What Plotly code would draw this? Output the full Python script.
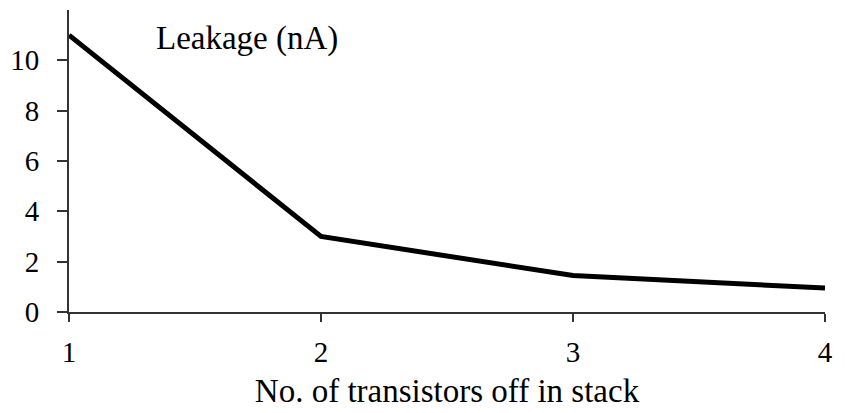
import plotly.graph_objects as go

transistors_off = [1, 2, 3, 4]
leakage_na = [11.0, 3.0, 1.45, 0.95]
y_ticks = [0, 2, 4, 6, 8, 10]
x_ticks = [1, 2, 3, 4]

FONT = "Liberation Serif, Times New Roman, serif"

fig = go.Figure()
fig.add_trace(go.Scatter(
    x=transistors_off, y=leakage_na, mode="lines",
    line=dict(color="black", width=5), showlegend=False,
))

fig.update_layout(
    width=845, height=413,
    margin=dict(l=68, r=20, t=10, b=97),
    paper_bgcolor="white", plot_bgcolor="white",
    font=dict(family=FONT, color="black", size=29),
    xaxis=dict(
        range=[1, 4], tickvals=x_ticks, showgrid=False, zeroline=False,
        showline=True, linecolor="#333", linewidth=2,
        ticks="outside", ticklen=8, tickwidth=2, tickcolor="#333",
        tickfont=dict(size=29, family=FONT), ticklabelstandoff=5,
        title=dict(text="No. of transistors off in stack", font=dict(size=33, family=FONT), standoff=12),
    ),
    yaxis=dict(
        range=[0, 12], tickvals=y_ticks, showgrid=False, zeroline=False,
        showline=True, linecolor="#333", linewidth=2,
        ticks="outside", ticklen=10, tickwidth=2, tickcolor="#333",
        tickfont=dict(size=29, family=FONT), ticklabelstandoff=12,
    ),
    annotations=[dict(
        text="Leakage (nA)", xref="paper", yref="paper", x=(153 - 68) / 757, y=(316 - 39) / 306,
        xanchor="left", yanchor="middle", showarrow=False,
        font=dict(size=33, family=FONT, color="black"),
    )],
)

fig.write_html(
    "out.html",
    config={"displayModeBar": False},
    post_script="document.body.style.margin='0';document.body.style.overflow='hidden';",
)
